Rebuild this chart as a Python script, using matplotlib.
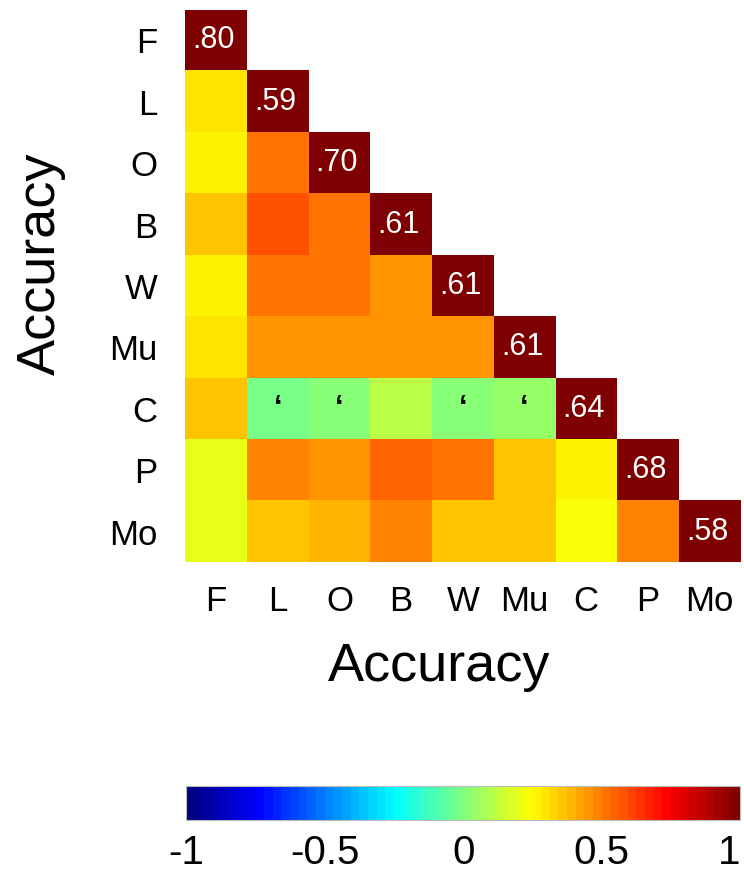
import numpy as np
import matplotlib.pyplot as plt
from matplotlib.colors import LinearSegmentedColormap

plt.rcParams['font.family'] = ['Liberation Sans', 'DejaVu Sans']

labels = ['F', 'L', 'O', 'B', 'W', 'Mu', 'C', 'P', 'Mo']

# lower triangle correlations (row by row, diagonal excluded)
corr_rows = [
    [],
    [0.31],
    [0.26, 0.50],
    [0.37, 0.58, 0.53],
    [0.26, 0.53, 0.53, 0.44],
    [0.29, 0.44, 0.44, 0.44, 0.44],
    [0.35, -0.03, 0.03, 0.12, 0.00, 0.06],
    [0.19, 0.48, 0.46, 0.54, 0.50, 0.37, 0.25],
    [0.19, 0.37, 0.40, 0.47, 0.37, 0.37, 0.22, 0.47],
]

# reliabilities shown on the diagonal
diag_vals = [0.80, 0.59, 0.70, 0.61, 0.61, 0.61, 0.64, 0.68, 0.58]

# non-significant cells marked with a tick
marks = [(6, 1), (6, 2), (6, 4), (6, 5)]

n = len(labels)
mat = np.full((n, n), np.nan)
for i, row in enumerate(corr_rows):
    for j, v in enumerate(row):
        mat[i, j] = v
    mat[i, i] = 1.0

# matlab style jet, 64 steps
jet_nodes = [(0.0, (0, 0, 0.5)), (0.125, (0, 0, 1)), (0.375, (0, 1, 1)),
             (0.625, (1, 1, 0)), (0.875, (1, 0, 0)), (1.0, (0.5, 0, 0))]
cmap = LinearSegmentedColormap.from_list('mjet', jet_nodes, N=64)
cmap.set_bad('white')

fig = plt.figure(figsize=(7.44, 8.8), dpi=100)
ax = fig.add_axes([0.249, 0.361, 0.746, 0.628])
im = ax.imshow(np.ma.masked_invalid(mat), cmap=cmap, vmin=-1, vmax=1, aspect='auto')

for i, v in enumerate(diag_vals):
    ax.text(i - 0.04, i, ('%.2f' % v)[1:], color='white', ha='center', va='center', fontsize=22)
for (i, j) in marks:
    ax.text(j, i, '\u2018', color='black', ha='center', va='center', fontsize=22, fontweight='bold')

ax.set_xticks(range(n))
ax.set_xticklabels(labels, fontsize=25)
ax.set_yticks(range(n))
ax.set_yticklabels(labels, fontsize=25)
ax.tick_params(axis='x', length=0, pad=16)
ax.tick_params(axis='y', length=0, pad=20)
for s in ax.spines.values():
    s.set_visible(False)
ax.set_xlabel('Accuracy', fontsize=39)
ax.xaxis.set_label_coords(0.458, -0.145)
ax.set_ylabel('Accuracy', fontsize=39)
ax.yaxis.set_label_coords(-0.215, 0.54)

cax = fig.add_axes([0.25, 0.068, 0.745, 0.039])
cb = fig.colorbar(im, cax=cax, orientation='horizontal', ticks=[-1, -0.5, 0, 0.5, 1])
cb.ax.set_xticklabels(['-1', '-0.5', '0', '0.5', '1'])
cb.ax.tick_params(length=0, labelsize=29, pad=10)
cb.ax.get_xticklabels()[-1].set_horizontalalignment('right')
cb.outline.set_edgecolor('#bbbbbb')
cb.outline.set_linewidth(0.8)

fig.savefig('out.png', dpi=100)
